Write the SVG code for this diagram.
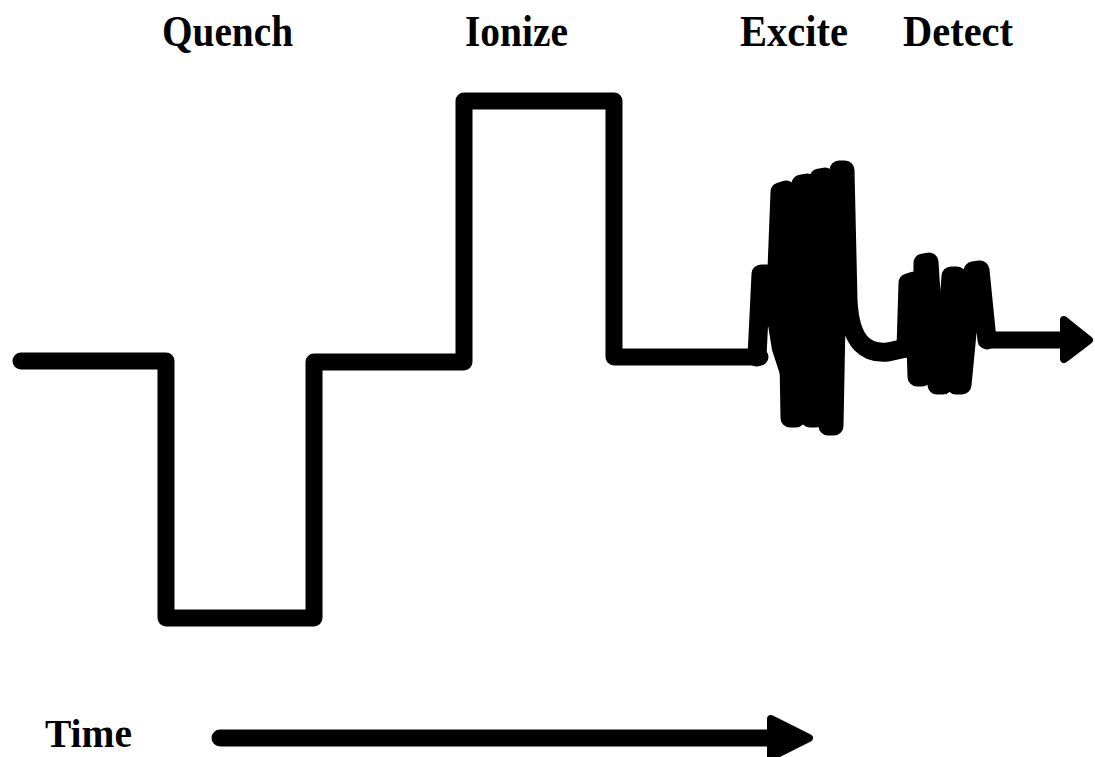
<svg xmlns="http://www.w3.org/2000/svg" width="1095" height="757" viewBox="0 0 1095 757">
  <style>
    .lbl { font-family: "Liberation Serif", "Times New Roman", serif; font-weight: bold; font-size: 45px; fill: #000; }
    .wave { fill: none; stroke: #000; stroke-width: 17; stroke-linecap: round; stroke-linejoin: round; }
    .burst { fill: none; stroke: #000; stroke-width: 19; stroke-linecap: round; stroke-linejoin: round; }
    .head { fill: #000; stroke: #000; stroke-width: 8; stroke-linejoin: round; }
  </style>
  <rect width="1095" height="757" fill="#fff"/>
  <g id="labels">
    <text class="lbl" x="162" y="46" textLength="131" lengthAdjust="spacingAndGlyphs">Quench</text>
    <text class="lbl" x="465" y="46" textLength="103" lengthAdjust="spacingAndGlyphs">Ionize</text>
    <text class="lbl" x="740" y="46" textLength="108" lengthAdjust="spacingAndGlyphs">Excite</text>
    <text class="lbl" x="903" y="46" textLength="110" lengthAdjust="spacingAndGlyphs">Detect</text>
    <text class="lbl" x="45" y="747" textLength="87" lengthAdjust="spacingAndGlyphs" style="font-size:41px">Time</text>
  </g>
  <g id="pulse-sequence">
    <path class="wave" d="M 21 361 H 166 V 618 H 314 V 362 H 464 V 101 H 614 V 357 H 760"/>
  </g>
  <g id="excite-burst">
    <polygon points="764,300 778,215 845,190 848,300 836,400 790,405 772,350" fill="#000"/>
    <path class="burst" d="M 757 357 L 761 274 L 768 274 L 775 320 L 780 192 L 786 190 L 790 418 L 796 418 L 801 184 L 807 183 L 810 418 L 816 418 L 819 178 L 825 177 L 828 426 L 834 426 L 839 170 L 845 170 L 848 300 C 850 345 868 354 888 352 L 906 348"/>
  </g>
  <g id="detect-signal">
    <path class="burst" d="M 906 348 L 908 283 L 914 281 L 917 377 L 922 377 L 923 263 L 929 262 L 937 385 L 943 385 L 951 276 L 957 276 L 956 385 L 962 385 L 973 271 L 980 270 L 987 340"/>
    <path class="wave" d="M 987 340 L 1062 340"/>
    <polygon class="head" points="1064,320 1089,340 1064,359"/>
  </g>
  <g id="connectors">
    <path class="wave" d="M 220 738 L 775 738" stroke-width="18"/>
    <polygon class="head" points="771,719 809,738 771,757"/>
  </g>
</svg>
